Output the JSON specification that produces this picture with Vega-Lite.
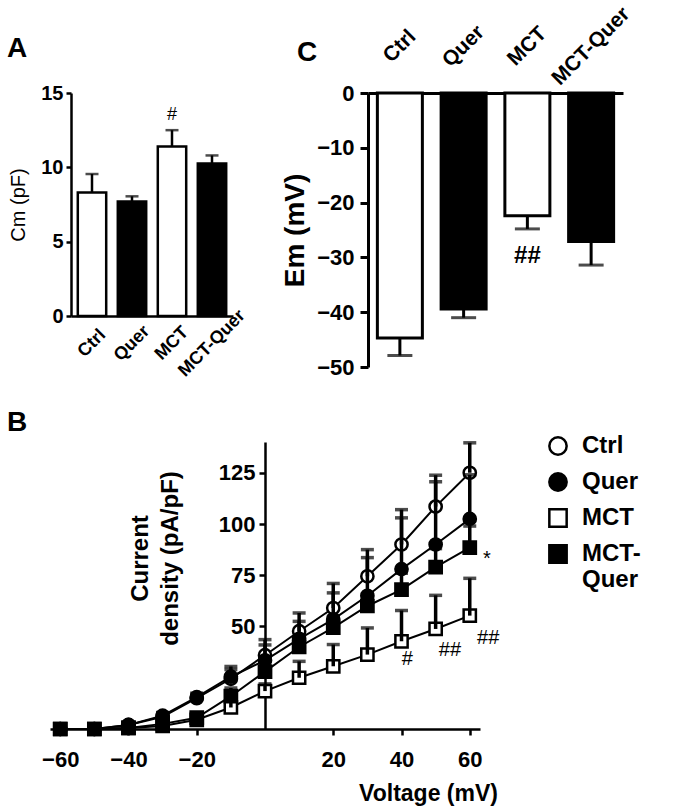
{
  "$schema": "https://vega.github.io/schema/vega-lite/v6.json",
  "padding": {"left": 7, "top": 2, "right": 5, "bottom": 2},
  "bounds": "full",
  "spacing": 29,
  "resolve": {"scale": {"fill": "independent", "shape": "independent", "stroke": "independent"}, "legend": {"fill": "independent", "shape": "independent", "stroke": "independent"}},
  "datasets": {
    "cm": [
      {"g": "Ctrl", "v": 8.3, "e": 9.55},
      {"g": "Quer", "v": 7.7, "e": 8.05},
      {"g": "MCT", "v": 11.4, "e": 12.5},
      {"g": "MCT-Quer", "v": 10.25, "e": 10.8}
    ],
    "cmNote": [{"g": "MCT", "v": 13.5, "t": "#"}],
    "em": [
      {"g": "Ctrl", "v": -44.7, "e": -47.9},
      {"g": "Quer", "v": -39.4, "e": -41.0},
      {"g": "MCT", "v": -22.4, "e": -24.8},
      {"g": "MCT-Quer", "v": -27.1, "e": -31.4}
    ],
    "emNote": [{"g": "MCT", "v": -29.7, "t": "##"}],
    "iv": [
      {"g": "Ctrl", "x": -60, "y": 0, "up": 0},
      {"g": "Ctrl", "x": -50, "y": 0, "up": 0},
      {"g": "Ctrl", "x": -40, "y": 2, "up": 2.5},
      {"g": "Ctrl", "x": -30, "y": 6, "up": 8},
      {"g": "Ctrl", "x": -20, "y": 15, "up": 17},
      {"g": "Ctrl", "x": -10, "y": 24.5, "up": 30.5},
      {"g": "Ctrl", "x": 0, "y": 36, "up": 43.6},
      {"g": "Ctrl", "x": 10, "y": 47.7, "up": 56.6},
      {"g": "Ctrl", "x": 20, "y": 59, "up": 71},
      {"g": "Ctrl", "x": 30, "y": 74.5, "up": 87.5},
      {"g": "Ctrl", "x": 40, "y": 90, "up": 107},
      {"g": "Ctrl", "x": 50, "y": 108.5, "up": 123.8},
      {"g": "Ctrl", "x": 60, "y": 125, "up": 139.6},
      {"g": "Quer", "x": -60, "y": 0, "up": 0},
      {"g": "Quer", "x": -50, "y": 0, "up": 0},
      {"g": "Quer", "x": -40, "y": 2, "up": 2.5},
      {"g": "Quer", "x": -30, "y": 6.5, "up": 8},
      {"g": "Quer", "x": -20, "y": 15.5, "up": 17.5},
      {"g": "Quer", "x": -10, "y": 25.5, "up": 29},
      {"g": "Quer", "x": 0, "y": 33.5, "up": 41},
      {"g": "Quer", "x": 10, "y": 44, "up": 52.5},
      {"g": "Quer", "x": 20, "y": 53.5, "up": 66.4},
      {"g": "Quer", "x": 30, "y": 65, "up": 83.6},
      {"g": "Quer", "x": 40, "y": 78, "up": 103},
      {"g": "Quer", "x": 50, "y": 90, "up": 120.6},
      {"g": "Quer", "x": 60, "y": 102.5, "up": 124},
      {"g": "MCT", "x": -60, "y": 0, "up": 0},
      {"g": "MCT", "x": -50, "y": 0, "up": 0},
      {"g": "MCT", "x": -40, "y": 0.5, "up": 0.5},
      {"g": "MCT", "x": -30, "y": 1.5, "up": 2},
      {"g": "MCT", "x": -20, "y": 4.5, "up": 5.5},
      {"g": "MCT", "x": -10, "y": 10.5, "up": 14},
      {"g": "MCT", "x": 0, "y": 18.5, "up": 22},
      {"g": "MCT", "x": 10, "y": 25, "up": 33},
      {"g": "MCT", "x": 20, "y": 30.6, "up": 41.2},
      {"g": "MCT", "x": 30, "y": 36.3, "up": 49.3},
      {"g": "MCT", "x": 40, "y": 42.8, "up": 57.8},
      {"g": "MCT", "x": 50, "y": 48.8, "up": 65.2},
      {"g": "MCT", "x": 60, "y": 55.3, "up": 73.5},
      {"g": "MCT-Quer", "x": -60, "y": 0, "up": 0},
      {"g": "MCT-Quer", "x": -50, "y": 0, "up": 0},
      {"g": "MCT-Quer", "x": -40, "y": 0.5, "up": 1},
      {"g": "MCT-Quer", "x": -30, "y": 2.5, "up": 3.5},
      {"g": "MCT-Quer", "x": -20, "y": 5.5, "up": 7},
      {"g": "MCT-Quer", "x": -10, "y": 16, "up": 20},
      {"g": "MCT-Quer", "x": 0, "y": 28, "up": 33},
      {"g": "MCT-Quer", "x": 10, "y": 40, "up": 45},
      {"g": "MCT-Quer", "x": 20, "y": 49.5, "up": 55},
      {"g": "MCT-Quer", "x": 30, "y": 60, "up": 66},
      {"g": "MCT-Quer", "x": 40, "y": 68, "up": 76},
      {"g": "MCT-Quer", "x": 50, "y": 79, "up": 88},
      {"g": "MCT-Quer", "x": 60, "y": 88.5, "up": 99}
    ],
    "ivNote": [
      {"x": 65, "y": 83, "t": "*"},
      {"x": 41.7, "y": 34, "t": "#"},
      {"x": 54.2, "y": 38.7, "t": "##"},
      {"x": 65.4, "y": 44.3, "t": "##"}
    ]
  },
  "vconcat": [
    {
      "spacing": 0,
      "bounds": "flush",
      "hconcat": [
        {
          "width": 21,
          "height": 274,
          "data": {"values": [{"k": 0}]},
          "mark": {"type": "point", "opacity": 0},
          "encoding": {}
        },
        {
          "spacing": 135,
          "bounds": "flush",
          "hconcat": [
            {
              "width": 162,
              "height": 223,
              "title": {"text": "A", "anchor": "start", "frame": "group", "fontSize": 28, "fontWeight": "bold", "dx": -64, "offset": 20},
              "data": {"name": "cm"},
              "encoding": {
                "x": {
                  "field": "g", "type": "nominal",
                  "sort": ["Ctrl", "Quer", "MCT", "MCT-Quer"],
                  "scale": {"paddingInner": 0.29, "paddingOuter": 0.17},
                  "axis": {"title": null, "labelAngle": -45, "labelAlign": "center", "labelBaseline": "middle", "labelFontSize": 18, "labelFontWeight": "bold", "ticks": false, "labelPadding": 27, "domainWidth": 2.5}
                },
                "y": {
                  "field": "v", "type": "quantitative",
                  "scale": {"domain": [0, 15], "nice": false},
                  "title": "Cm (pF)",
                  "axis": {"values": [0, 5, 10, 15], "labelFontSize": 20, "labelFontWeight": "bold", "tickSize": 5, "labelPadding": 3, "titleFontSize": 20, "titleFontWeight": "normal", "titlePadding": 12, "domainWidth": 2.5, "tickWidth": 2.5}
                }
              },
              "layer": [
                {
                  "mark": {"type": "rule", "strokeWidth": 2.5, "color": "black"},
                  "encoding": {"y2": {"field": "e"}}
                },
                {
                  "mark": {"type": "tick", "orient": "horizontal", "size": 13, "thickness": 2.5, "color": "black"},
                  "encoding": {"y": {"field": "e", "type": "quantitative", "title": "Cm (pF)"}}
                },
                {
                  "mark": {"type": "bar", "stroke": "black", "strokeWidth": 2.5},
                  "encoding": {
                    "fill": {"field": "g", "type": "nominal", "scale": {"domain": ["Ctrl", "Quer", "MCT", "MCT-Quer"], "range": ["white", "black", "white", "black"]}, "legend": null}
                  }
                },
                {
                  "data": {"name": "cmNote"},
                  "mark": {"type": "text", "fontSize": 18, "baseline": "middle", "color": "black"},
                  "encoding": {"text": {"field": "t"}}
                }
              ]
            },
            {
              "width": 255,
              "height": 274,
              "title": {"text": "C", "anchor": "start", "frame": "group", "fontSize": 28, "fontWeight": "bold", "dx": -71, "offset": -64},
              "data": {"name": "em"},
              "encoding": {
                "x": {
                  "field": "g", "type": "nominal",
                  "sort": ["Ctrl", "Quer", "MCT", "MCT-Quer"],
                  "scale": {"paddingInner": 0.294, "paddingOuter": 0.147},
                  "axis": {"orient": "top", "title": null, "labelAngle": -45, "labelAlign": "center", "labelBaseline": "middle", "labelFontSize": 21, "labelFontWeight": "bold", "ticks": false, "labelPadding": 47, "domainWidth": 3}
                },
                "y": {
                  "field": "v", "type": "quantitative",
                  "scale": {"domain": [-50, 0], "nice": false},
                  "title": "Em (mV)",
                  "axis": {"values": [0, -10, -20, -30, -40, -50], "labelFontSize": 22, "labelFontWeight": "bold", "tickSize": 8, "labelPadding": 6, "titleFontSize": 28, "titleFontWeight": "bold", "titlePadding": 7, "domainWidth": 3, "tickWidth": 3}
                }
              },
              "layer": [
                {
                  "mark": {"type": "rule", "strokeWidth": 3, "color": "black"},
                  "encoding": {"y2": {"field": "e"}}
                },
                {
                  "mark": {"type": "tick", "orient": "horizontal", "size": 25, "thickness": 3, "color": "black"},
                  "encoding": {"y": {"field": "e", "type": "quantitative", "title": "Em (mV)"}}
                },
                {
                  "mark": {"type": "bar", "stroke": "black", "strokeWidth": 3},
                  "encoding": {
                    "fill": {"field": "g", "type": "nominal", "scale": {"domain": ["Ctrl", "Quer", "MCT", "MCT-Quer"], "range": ["white", "black", "white", "black"]}, "legend": null}
                  }
                },
                {
                  "data": {"name": "emNote"},
                  "mark": {"type": "text", "fontSize": 24, "fontWeight": "bold", "baseline": "middle", "color": "black"},
                  "encoding": {"text": {"field": "t"}}
                }
              ]
            }
          ]
        }
      ]
    },
    {
      "width": 430,
      "height": 287,
      "title": {"text": "B", "anchor": "start", "frame": "group", "fontSize": 28, "fontWeight": "bold", "dx": -43, "offset": -3},
      "data": {"name": "iv"},
      "encoding": {
        "x": {
          "field": "x", "type": "quantitative",
          "scale": {"domain": [-63, 63], "nice": false},
          "title": "Voltage (mV)",
          "axis": {"values": [-60, -40, -20, 20, 40, 60], "labelFontSize": 22, "labelFontWeight": "bold", "tickSize": 6, "labelPadding": 14, "titleFontSize": 23, "titleFontWeight": "bold", "titleX": 378, "titleY": 53, "titleAlign": "center", "titleBaseline": "top", "domainWidth": 2.5, "tickWidth": 2.5}
        },
        "y": {
          "field": "y", "type": "quantitative",
          "scale": {"domain": [0, 140], "nice": false},
          "title": ["Current", "density (pA/pF)"],
          "axis": {"values": [50, 75, 100, 125], "offset": -215, "labelFontSize": 22, "labelFontWeight": "bold", "tickSize": 6, "labelPadding": 4, "titleFontSize": 24, "titleFontWeight": "bold", "titleLineHeight": 30, "titleX": -137, "titleY": 116, "titleAlign": "center", "titleBaseline": "top", "titleAngle": -90, "domainWidth": 2.5, "tickWidth": 2.5}
        }
      },
      "layer": [
        {
          "mark": {"type": "line", "color": "black", "strokeWidth": 2},
          "encoding": {"detail": {"field": "g", "type": "nominal"}}
        },
        {
          "mark": {"type": "point", "filled": true, "strokeWidth": 2.5, "size": 150, "opacity": 1},
          "encoding": {
            "shape": {
              "field": "g", "type": "nominal",
              "scale": {"domain": ["Ctrl", "Quer", "MCT", "MCT-Quer"], "range": ["circle", "circle", "square", "square"]},
              "legend": {"orient": "none", "legendX": 496, "legendY": -8, "title": null, "padding": 0, "labelFontSize": 24, "labelFontWeight": "bold", "labelColor": "black", "symbolSize": 300, "symbolStrokeWidth": 2.5, "rowPadding": 8, "labelOffset": 12, "labelLimit": 0, "labelExpr": "datum.label === 'MCT-Quer' ? ['MCT-', 'Quer'] : datum.label"}
            },
            "fill": {
              "field": "g", "type": "nominal",
              "scale": {"domain": ["Ctrl", "Quer", "MCT", "MCT-Quer"], "range": ["white", "black", "white", "black"]},
              "legend": {"orient": "none", "legendX": 496, "legendY": -8, "title": null, "padding": 0, "labelFontSize": 24, "labelFontWeight": "bold", "labelColor": "black", "symbolSize": 300, "symbolStrokeWidth": 2.5, "rowPadding": 8, "labelOffset": 12, "labelLimit": 0, "labelExpr": "datum.label === 'MCT-Quer' ? ['MCT-', 'Quer'] : datum.label"}
            },
            "stroke": {
              "field": "g", "type": "nominal",
              "scale": {"domain": ["Ctrl", "Quer", "MCT", "MCT-Quer"], "range": ["black", "black", "black", "black"]},
              "legend": {"orient": "none", "legendX": 496, "legendY": -8, "title": null, "padding": 0, "labelFontSize": 24, "labelFontWeight": "bold", "labelColor": "black", "symbolSize": 300, "symbolStrokeWidth": 2.5, "rowPadding": 8, "labelOffset": 12, "labelLimit": 0, "labelExpr": "datum.label === 'MCT-Quer' ? ['MCT-', 'Quer'] : datum.label"}
            }
          }
        },
        {
          "mark": {"type": "rule", "strokeWidth": 3.5, "color": "black"},
          "encoding": {"y2": {"field": "up"}}
        },
        {
          "mark": {"type": "tick", "orient": "horizontal", "size": 13, "thickness": 3.5, "color": "black"},
          "encoding": {"y": {"field": "up", "type": "quantitative", "title": ["Current", "density (pA/pF)"]}}
        },
        {
          "data": {"name": "ivNote"},
          "mark": {"type": "text", "fontSize": 20, "baseline": "middle", "color": "black"},
          "encoding": {"text": {"field": "t"}}
        }
      ]
    }
  ],
  "config": {
    "view": {"stroke": null},
    "font": "Liberation Sans",
    "axis": {"domainColor": "black", "tickColor": "black", "labelColor": "black", "titleColor": "black", "grid": false},
    "title": {"color": "black"}
  }
}
